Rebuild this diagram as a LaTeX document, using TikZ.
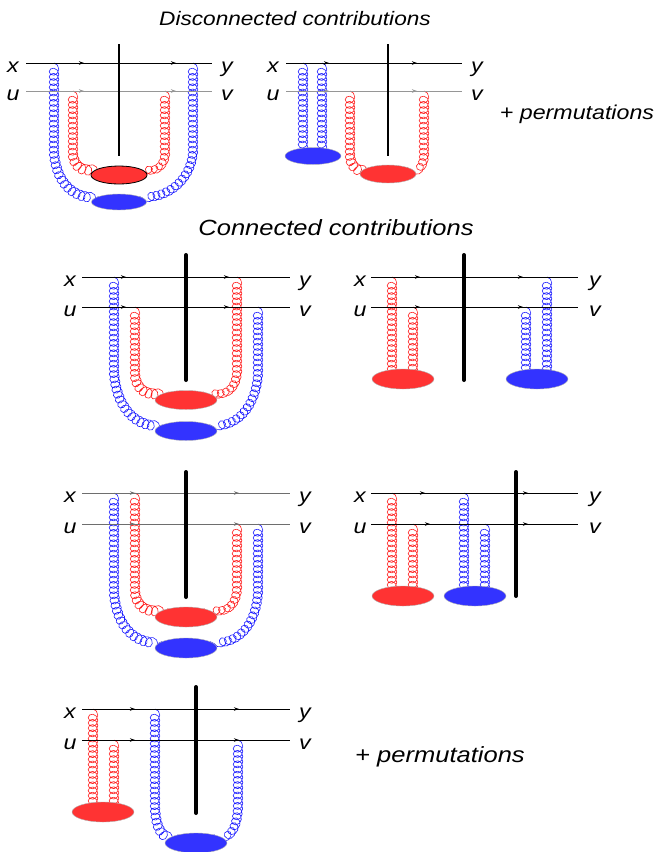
\documentclass[tikz,border=0pt]{standalone}
\usepackage{fontspec}
\setmainfont{Liberation Sans}
\usetikzlibrary{shapes.geometric,decorations.pathmorphing,decorations.markings,arrows.meta}
\pgfdeclarelayer{background}
\pgfsetlayers{background,main}
\definecolor{blobred}{RGB}{255,51,51}
\definecolor{blobblue}{RGB}{51,51,255}
\definecolor{gred}{RGB}{255,30,30}
\definecolor{gblue}{RGB}{30,30,255}
\definecolor{lgray}{RGB}{150,150,150}
\definecolor{mgray}{RGB}{110,110,110}
\tikzset{
  lbl/.style={font=\itshape\fontsize{20}{24}\selectfont, xscale=1.16, anchor=base, inner sep=0pt},
  ttl/.style={anchor=base, inner sep=0pt, xscale=1.16},
  fl/.style={line width=1pt},
  ar/.style 2 args={postaction={decorate, decoration={markings,
      mark=at position #1 with {\arrow{Stealth[length=5pt,width=3.5pt]}},
      mark=at position #2 with {\arrow{Stealth[length=5pt,width=3.5pt]}}}}},
  cutthin/.style={line width=2pt},
  cutthick/.style={line width=4pt, line cap=round},
  gl/.style={decorate, decoration={coil, amplitude=4.8pt, segment length=5.2pt, aspect=1}, line width=0.6pt},
  glr/.style={gl, draw=gred},
  glb/.style={gl, draw=gblue},
  rblob/.style={ellipse, fill=blobred, draw=gray!60, line width=0.4pt, inner sep=0pt, minimum width=62pt, minimum height=20pt},
  bblob/.style={ellipse, fill=blobblue, draw=gray!60, line width=0.4pt, inner sep=0pt, minimum width=62pt, minimum height=20pt}
}
\begin{document}
\begin{tikzpicture}[x=1pt,y=-1pt]
\useasboundingbox (0,0) rectangle (658,852);

% ---------- titles ----------
\node[ttl, font=\itshape\fontsize{19.5}{23}\selectfont] (tdis) at (295,25.7) {Disconnected contributions};
\node[ttl, font=\itshape\fontsize{22}{26}\selectfont] (tcon) at (336,235) {Connected contributions};
\node[ttl, font=\itshape\fontsize{20}{24}\selectfont] (perm1) at (577,119) {+ permutations};
\node[ttl, font=\itshape\fontsize{22}{26}\selectfont] (perm2) at (440,762) {+ permutations};

% ---------- Panel A ----------
\node[lbl] (xA) at (13,72) {x};
\node[lbl] (uA) at (13,100) {u};
\node[lbl] (yA) at (227,72) {y};
\node[lbl] (vA) at (227,100) {v};
\coordinate (xA0) at (26,63); \coordinate (xA1) at (212,63);
\coordinate (uA0) at (26,91); \coordinate (uA1) at (212,91);
\draw[fl, ar={58pt}{150pt}] (xA0) -- (xA1);
\draw[fl, lgray, ar={58pt}{150pt}] (uA0) -- (uA1);
\coordinate (cA0) at (119,44); \coordinate (cA1) at (119,156);
\draw[cutthin] (cA0) -- (cA1);
\node[rblob, draw=black, line width=0.8pt, minimum width=56pt, minimum height=18pt] (rA) at (119,175) {};
\node[bblob, minimum width=55pt, minimum height=16pt] (bA) at (119,202) {};
\coordinate (gA1) at (54,63); \coordinate (gA2) at (73,91);
\coordinate (gA3) at (165,91); \coordinate (gA4) at (193,63);
\begin{pgfonlayer}{background}
\draw[glb] (gA1) -- (54,145) .. controls (54,182) and (74,199) .. (bA.165);
\draw[glb] (gA4) -- (193,145) .. controls (193,182) and (164,199) .. (bA.15);
\draw[glr] (gA2) -- (73,148) .. controls (73,165) and (82,171) .. (rA.160);
\draw[glr] (gA3) -- (165,148) .. controls (165,165) and (156,171) .. (rA.20);
\end{pgfonlayer}

% ---------- Panel B ----------
\node[lbl] (xB) at (273,72) {x};
\node[lbl] (uB) at (273,100) {u};
\node[lbl] (yB) at (477,72) {y};
\node[lbl] (vB) at (477,100) {v};
\coordinate (xB0) at (286,63); \coordinate (xB1) at (462,63);
\coordinate (uB0) at (286,91); \coordinate (uB1) at (462,91);
\draw[fl, ar={43pt}{131pt}] (xB0) -- (xB1);
\draw[fl, lgray, ar={43pt}{131pt}] (uB0) -- (uB1);
\coordinate (cB0) at (388,44); \coordinate (cB1) at (388,156);
\draw[cutthin] (cB0) -- (cB1);
\node[bblob, minimum width=56pt, minimum height=17pt] (bB) at (313,156) {};
\node[rblob, minimum width=56pt, minimum height=18pt] (rB) at (388,174) {};
\coordinate (gB1) at (303,63); \coordinate (gB2) at (322,63);
\coordinate (gB3) at (350,91); \coordinate (gB4) at (424,91);
\begin{pgfonlayer}{background}
\draw[glb] (gB1) -- (gB1 |- bB.center);
\draw[glb] (gB2) -- (gB2 |- bB.center);
\draw[glr] (gB3) -- (350,150) .. controls (350,167) and (360,171) .. (rB.160);
\draw[glr] (gB4) -- (424,150) .. controls (424,167) and (416,171) .. (rB.20);
\end{pgfonlayer}

% ---------- Panel C ----------
\node[lbl] (xC) at (70,286) {x};
\node[lbl] (uC) at (70,316) {u};
\node[lbl] (yC) at (305,286) {y};
\node[lbl] (vC) at (305,316) {v};
\coordinate (xC0) at (82,277); \coordinate (xC1) at (290,277);
\coordinate (uC0) at (82,307); \coordinate (uC1) at (290,307);
\draw[fl, ar={44pt}{147pt}] (xC0) -- (xC1);
\draw[fl, ar={44pt}{147pt}] (uC0) -- (uC1);
\coordinate (cC0) at (186,255); \coordinate (cC1) at (186,380);
\draw[cutthick] (cC0) -- (cC1);
\node[rblob, minimum height=19pt] (rC) at (186,400) {};
\node[bblob, minimum height=19pt] (bC) at (186,431) {};
\coordinate (gC1) at (114,277); \coordinate (gC2) at (135,307);
\coordinate (gC3) at (237,277); \coordinate (gC4) at (258,307);
\begin{pgfonlayer}{background}
\draw[glb] (gC1) -- (114,365) .. controls (114,405) and (135,428) .. (bC.165);
\draw[glb] (gC4) -- (258,367) .. controls (258,405) and (237,428) .. (bC.15);
\draw[glr] (gC2) -- (135,368) .. controls (135,388) and (146,396) .. (rC.155);
\draw[glr] (gC3) -- (237,366) .. controls (237,388) and (226,396) .. (rC.25);
\end{pgfonlayer}

% ---------- Panel D ----------
\node[lbl] (xD) at (360,286) {x};
\node[lbl] (uD) at (360,316) {u};
\node[lbl] (yD) at (595,286) {y};
\node[lbl] (vD) at (595,316) {v};
\coordinate (xD0) at (371,277); \coordinate (xD1) at (578,277);
\coordinate (uD0) at (371,307); \coordinate (uD1) at (578,307);
\draw[fl, ar={49pt}{152pt}] (xD0) -- (xD1);
\draw[fl, ar={49pt}{152pt}] (uD0) -- (uD1);
\coordinate (cD0) at (464,255); \coordinate (cD1) at (464,380);
\draw[cutthick] (cD0) -- (cD1);
\node[rblob] (rD) at (403,379) {};
\node[bblob] (bD) at (537,379) {};
\coordinate (gD1) at (392,277); \coordinate (gD2) at (413,307);
\coordinate (gD3) at (526,307); \coordinate (gD4) at (547,277);
\begin{pgfonlayer}{background}
\draw[glr] (gD1) -- (gD1 |- rD.center);
\draw[glr] (gD2) -- (gD2 |- rD.center);
\draw[glb] (gD3) -- (gD3 |- bD.center);
\draw[glb] (gD4) -- (gD4 |- bD.center);
\end{pgfonlayer}

% ---------- Panel E ----------
\node[lbl] (xE) at (70,502) {x};
\node[lbl] (uE) at (70,533) {u};
\node[lbl] (yE) at (305,502) {y};
\node[lbl] (vE) at (305,533) {v};
\coordinate (xE0) at (82,493); \coordinate (xE1) at (290,493);
\coordinate (uE0) at (82,524); \coordinate (uE1) at (290,524);
\draw[fl, mgray, ar={53pt}{157pt}] (xE0) -- (xE1);
\draw[fl, mgray, ar={53pt}{157pt}] (uE0) -- (uE1);
\coordinate (cE0) at (186,472); \coordinate (cE1) at (186,597);
\draw[cutthick] (cE0) -- (cE1);
\node[rblob] (rE) at (186,617) {};
\node[bblob] (bE) at (186,648) {};
\coordinate (gE1) at (114,493); \coordinate (gE2) at (135,493);
\coordinate (gE3) at (237,524); \coordinate (gE4) at (258,524);
\begin{pgfonlayer}{background}
\draw[glb] (gE1) -- (114,585) .. controls (114,625) and (135,645) .. (bE.165);
\draw[glb] (gE4) -- (258,585) .. controls (258,625) and (237,645) .. (bE.15);
\draw[glr] (gE2) -- (135,585) .. controls (135,605) and (146,613) .. (rE.155);
\draw[glr] (gE3) -- (237,583) .. controls (237,605) and (226,613) .. (rE.25);
\end{pgfonlayer}

% ---------- Panel F ----------
\node[lbl] (xF) at (360,502) {x};
\node[lbl] (uF) at (360,533) {u};
\node[lbl] (yF) at (595,502) {y};
\node[lbl] (vF) at (595,533) {v};
\coordinate (xF0) at (371,493); \coordinate (xF1) at (578,493);
\coordinate (uF0) at (371,524); \coordinate (uF1) at (578,524);
\draw[fl, ar={54pt}{157pt}] (xF0) -- (xF1);
\draw[fl, ar={59pt}{157pt}] (uF0) -- (uF1);
\coordinate (cF0) at (516,472); \coordinate (cF1) at (516,596);
\draw[cutthick] (cF0) -- (cF1);
\node[rblob] (rF) at (403,596) {};
\node[bblob] (bF) at (475,596) {};
\coordinate (gF1) at (392,493); \coordinate (gF2) at (413,524);
\coordinate (gF3) at (464,493); \coordinate (gF4) at (485,524);
\begin{pgfonlayer}{background}
\draw[glr] (gF1) -- (gF1 |- rF.center);
\draw[glr] (gF2) -- (gF2 |- rF.center);
\draw[glb] (gF3) -- (gF3 |- bF.center);
\draw[glb] (gF4) -- (gF4 |- bF.center);
\end{pgfonlayer}

% ---------- Panel G ----------
\node[lbl] (xG) at (70,718) {x};
\node[lbl] (uG) at (70,749) {u};
\node[lbl] (yG) at (305,718) {y};
\node[lbl] (vG) at (305,749) {v};
\coordinate (xG0) at (82,709); \coordinate (xG1) at (290,709);
\coordinate (uG0) at (82,740); \coordinate (uG1) at (290,740);
\draw[fl, ar={53pt}{157pt}] (xG0) -- (xG1);
\draw[fl, ar={53pt}{157pt}] (uG0) -- (uG1);
\coordinate (cG0) at (196,687); \coordinate (cG1) at (196,813);
\draw[cutthick] (cG0) -- (cG1);
\node[rblob] (rG) at (103,812) {};
\node[bblob] (bG) at (196,843) {};
\coordinate (gG1) at (93,709); \coordinate (gG2) at (114,740);
\coordinate (gG3) at (155,709); \coordinate (gG4) at (238,740);
\begin{pgfonlayer}{background}
\draw[glr] (gG1) -- (gG1 |- rG.center);
\draw[glr] (gG2) -- (gG2 |- rG.center);
\draw[glb] (gG3) -- (155,800) .. controls (155,828) and (162,839) .. (bG.155);
\draw[glb] (gG4) -- (238,800) .. controls (238,828) and (230,839) .. (bG.25);
\end{pgfonlayer}
\end{tikzpicture}
\end{document}
